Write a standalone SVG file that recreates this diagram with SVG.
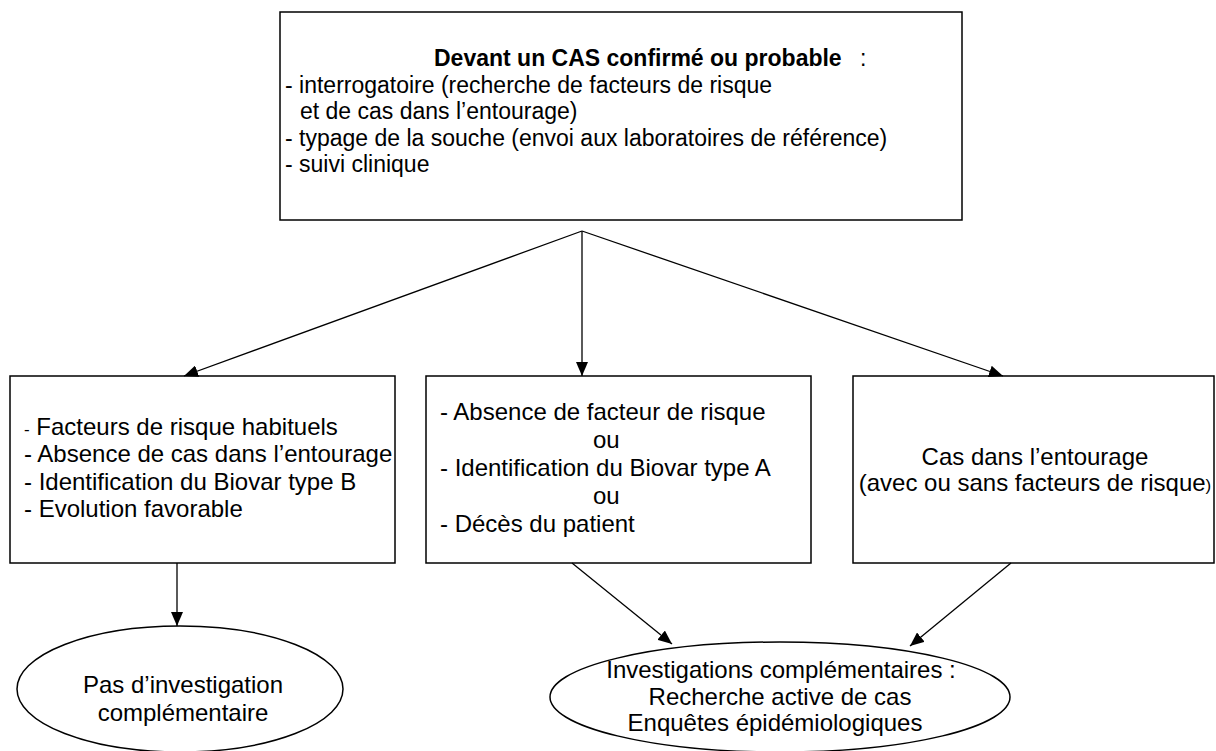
<svg xmlns="http://www.w3.org/2000/svg" width="1216" height="751" viewBox="0 0 1216 751">
<defs>
<style>
.box{fill:#fff;stroke:#000;stroke-width:1.5}
.t{font-family:"Liberation Sans",Arial,sans-serif;font-size:24px;fill:#000}
.s{font-size:23px}
.b{font-weight:bold}
.c{stroke:#000;stroke-width:1.3;fill:none}
</style>
<marker id="ah" markerWidth="14" markerHeight="12" refX="14" refY="6" orient="auto" markerUnits="userSpaceOnUse"><path d="M0,0 L14,6 L0,12 z" fill="#000"/></marker>
</defs>
<rect width="1216" height="751" fill="#fff"/>
<g id="top">
<rect class="box" x="280" y="12" width="682" height="208"/>
<text class="t s b" x="434" y="66">Devant un CAS confirmé ou probable</text>
<text class="t s" x="860" y="66">:</text>
<text class="t s" x="285" y="92.5">- interrogatoire (recherche de facteurs de risque</text>
<text class="t s" x="300" y="119">et de cas dans l’entourage)</text>
<text class="t s" x="285" y="145.5">- typage de la souche (envoi aux laboratoires de référence)</text>
<text class="t s" x="285" y="172">- suivi clinique</text>
</g>
<g id="left">
<rect class="box" x="10" y="376" width="385" height="187"/>
<text class="t" x="24" y="435"><tspan font-size="17">-</tspan> Facteurs de risque habituels</text>
<text class="t" x="24" y="462">- Absence de cas dans l’entourage</text>
<text class="t" x="24" y="490">- Identification du Biovar type B</text>
<text class="t" x="24" y="517">- Evolution favorable</text>
</g>
<g id="middle">
<rect class="box" x="426" y="376" width="385" height="187"/>
<text class="t" x="440" y="420">- Absence de facteur de risque</text>
<text class="t" x="593" y="448">ou</text>
<text class="t" x="440" y="476">- Identification du Biovar type A</text>
<text class="t" x="593" y="504">ou</text>
<text class="t" x="440" y="532">- Décès du patient</text>
</g>
<g id="right">
<rect class="box" x="853" y="376" width="361" height="187"/>
<text class="t" x="1035" y="465" text-anchor="middle">Cas dans l’entourage</text>
<text class="t" x="1035" y="491" text-anchor="middle">(avec ou sans facteurs de risque<tspan font-size="17">)</tspan></text>
</g>
<g id="pas">
<ellipse class="box" cx="180" cy="689" rx="163" ry="63"/>
<text class="t" x="183" y="693" text-anchor="middle">Pas d’investigation</text>
<text class="t" x="183" y="721" text-anchor="middle">complémentaire</text>
</g>
<g id="invest">
<ellipse class="box" cx="780" cy="697" rx="230" ry="55"/>
<text class="t" x="781" y="678" text-anchor="middle">Investigations complémentaires :</text>
<text class="t" x="780" y="705" text-anchor="middle">Recherche active de cas</text>
<text class="t" x="775" y="731" text-anchor="middle">Enquêtes épidémiologiques</text>
</g>
<g id="connectors">
<line class="c" x1="582" y1="231" x2="184" y2="376" marker-end="url(#ah)"/>
<line class="c" x1="582" y1="231" x2="582" y2="376" marker-end="url(#ah)"/>
<line class="c" x1="582" y1="231" x2="1003" y2="376" marker-end="url(#ah)"/>
<line class="c" x1="177" y1="563" x2="177" y2="626" marker-end="url(#ah)"/>
<line class="c" x1="572" y1="563" x2="672" y2="644" marker-end="url(#ah)"/>
<line class="c" x1="1011" y1="563" x2="910" y2="646" marker-end="url(#ah)"/>
</g>
</svg>
